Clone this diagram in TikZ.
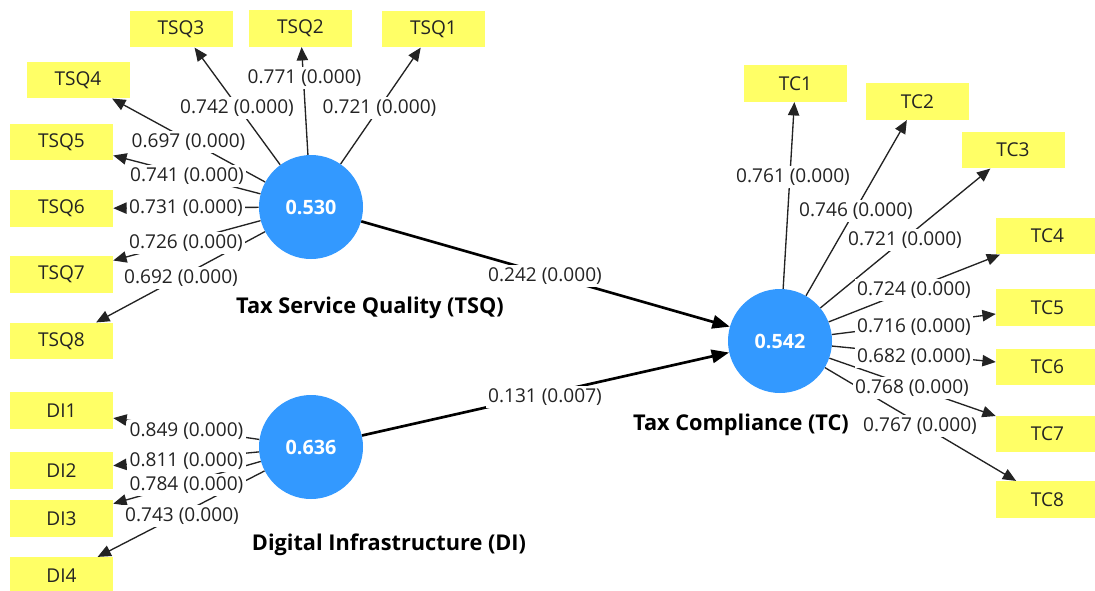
\documentclass[tikz,border=0pt]{standalone}
\usepackage{fontspec}
\setmainfont{Open Sans}
\usetikzlibrary{arrows.meta}
\definecolor{boxyellow}{RGB}{255,255,102}
\definecolor{lvblue}{RGB}{51,153,255}
\definecolor{txt}{RGB}{35,35,35}
\begin{document}
\begin{tikzpicture}[x=0.75pt,y=-0.75pt,
  ind/.style={fill=boxyellow,minimum width=77.25pt,minimum height=27.5pt,inner sep=0pt,font=\fontsize{14.3}{16}\selectfont,text=txt},
  lv/.style={circle,fill=lvblue,minimum size=78pt,inner sep=0pt,font=\bfseries\fontsize{14.8}{16}\selectfont,text=white},
  lab/.style={fill=white,inner sep=2pt,font=\fontsize{14.3}{16}\selectfont,text=txt},
  lvname/.style={font=\bfseries\fontsize{16.3}{18}\selectfont,text=black},
  load/.style={draw=txt,line width=1pt,-{Triangle[length=10pt,width=8.5pt]}},
  struct/.style={draw=black,line width=2pt,-{Triangle[length=13pt,width=10pt]}}
]
\clip (0,0) rectangle (1095,590);
\fill[white] (0,0) rectangle (1095,590);
% latent variables
\node[lv] (tsq) at (311,207) {0.530};
\node[lv] (di)  at (311,447) {0.636};
\node[lv] (tc)  at (780,341) {0.542};
% indicators TSQ
\node[ind] (tsq1) at (433.5,29) {TSQ1};
\node[ind] (tsq2) at (300.5,28.5) {TSQ2};
\node[ind] (tsq3) at (181,29) {TSQ3};
\node[ind] (tsq4) at (78,80) {TSQ4};
\node[ind] (tsq5) at (61.5,142) {TSQ5};
\node[ind] (tsq6) at (61.5,208.5) {TSQ6};
\node[ind] (tsq7) at (61.5,274.5) {TSQ7};
\node[ind] (tsq8) at (61.5,341) {TSQ8};
% indicators DI
\node[ind] (di1) at (61.5,410.5) {DI1};
\node[ind] (di2) at (61.5,470.5) {DI2};
\node[ind] (di3) at (61.5,518.5) {DI3};
\node[ind] (di4) at (61.5,575.5) {DI4};
% indicators TC
\node[ind] (tc1) at (795.5,83.5) {TC1};
\node[ind] (tc2) at (917.5,101.5) {TC2};
\node[ind] (tc3) at (1013,150) {TC3};
\node[ind] (tc4) at (1047.5,236) {TC4};
\node[ind] (tc5) at (1047.5,307.5) {TC5};
\node[ind] (tc6) at (1047.5,367) {TC6};
\node[ind] (tc7) at (1047.5,434) {TC7};
\node[ind] (tc8) at (1047.5,499.5) {TC8};
% loadings
\foreach \i in {1,...,8} {\draw[load] (tsq) -- (tsq\i);}
\foreach \i in {1,...,4} {\draw[load] (di) -- (di\i);}
\foreach \i in {1,...,8} {\draw[load] (tc) -- (tc\i);}
% structural paths
\draw[struct] (tsq) -- (tc);
\draw[struct] (di) -- (tc);
% labels
\node[lab] (l1) at (379.5,108) {0.721 (0.000)};
\node[lab] (l2) at (304.5,78) {0.771 (0.000)};
\node[lab] (l3) at (237,108) {0.742 (0.000)};
\node[lab] (l4) at (188.5,142) {0.697 (0.000)};
\node[lab] (l5) at (187,176) {0.741 (0.000)};
\node[lab] (l6) at (186,208.5) {0.731 (0.000)};
\node[lab] (l7) at (186,243) {0.726 (0.000)};
\node[lab] (l8) at (181,278) {0.692 (0.000)};
\node[lab] (d1) at (186.5,431) {0.849 (0.000)};
\node[lab] (d2) at (186.5,461) {0.811 (0.000)};
\node[lab] (d3) at (186.5,485) {0.784 (0.000)};
\node[lab] (d4) at (182,516) {0.743 (0.000)};
\node[lab] (c1) at (793,177) {0.761 (0.000)};
\node[lab] (c2) at (856,211) {0.746 (0.000)};
\node[lab] (c3) at (905,240) {0.721 (0.000)};
\node[lab] (c4) at (914,290) {0.724 (0.000)};
\node[lab] (c5) at (914,327) {0.716 (0.000)};
\node[lab] (c6) at (914,357) {0.682 (0.000)};
\node[lab] (c7) at (912,388) {0.768 (0.000)};
\node[lab] (c8) at (920,426) {0.767 (0.000)};
\node[lab] (s1) at (545,276) {0.242 (0.000)};
\node[lab] (s2) at (545,397) {0.131 (0.007)};
% latent names
\node[lvname] (ntsq) at (370,308) {Tax Service Quality (TSQ)};
\node[lvname] (ndi) at (389,545) {Digital Infrastructure (DI)};
\node[lvname] (ntc) at (741,425) {Tax Compliance (TC)};
\end{tikzpicture}
\end{document}
